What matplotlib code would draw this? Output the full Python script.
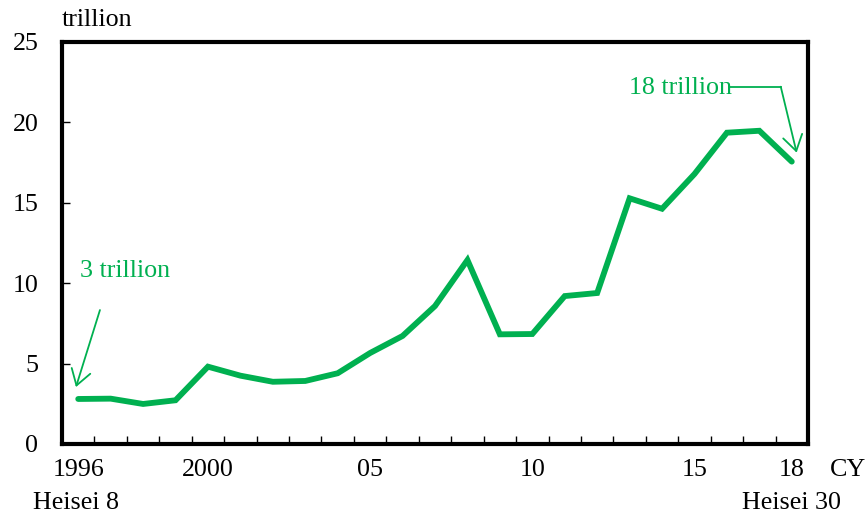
import matplotlib
matplotlib.use("Agg")
import matplotlib.pyplot as plt

years = list(range(1996, 2019))
values = [2.80, 2.82, 2.49, 2.72, 4.81, 4.25, 3.87, 3.92, 4.40, 5.66, 6.72,
          8.58, 11.44, 6.82, 6.84, 9.20, 9.39, 15.28, 14.63, 16.79, 19.36,
          19.48, 17.56]
xtick_years = [1996, 2000, 2005, 2010, 2015, 2018]
xtick_labels = ["1996", "2000", "05", "10", "15", "18"]
yticks = [0, 5, 10, 15, 20, 25]

GREEN = "#00B050"
FS = 18.7
plt.rcParams["font.family"] = ["Liberation Serif", "DejaVu Serif"]

W, H = 868, 514
fig = plt.figure(figsize=(W / 100, H / 100), dpi=100)
ax = fig.add_axes([62 / W, 1 - 444 / H, (808 - 62) / W, (444 - 42) / H])

idx = list(range(len(years)))
ax.plot(idx, values, color=GREEN, lw=4.2, solid_capstyle="round",
        solid_joinstyle="miter", zorder=3)

ax.set_xlim(-0.5, len(years) - 0.5)
ax.set_ylim(0, 25)

for s in ax.spines.values():
    s.set_linewidth(3.0)
    s.set_color("black")

ax.set_yticks(yticks)
ax.set_yticklabels([str(v) for v in yticks])
ax.tick_params(axis="y", direction="in", length=6, width=1.0, pad=17,
               labelsize=FS)

ax.set_xticks([i + 0.5 for i in idx[:-1]])
ax.set_xticklabels([])
ax.tick_params(axis="x", direction="in", length=6, width=1.0)
for y, lab in zip(xtick_years, xtick_labels):
    ax.text(years.index(y), -1.6, lab, ha="center", va="center",
            fontsize=FS, clip_on=False)

fig.text(62 / W, 1 - 20 / H, "trillion", ha="left", va="center", fontsize=FS)
fig.text(830 / W, 1 - 470 / H, "CY", ha="left", va="center", fontsize=FS)
fig.text(76 / W, 1 - 503 / H, "Heisei 8", ha="center", va="center", fontsize=FS)
fig.text(791 / W, 1 - 503 / H, "Heisei 30", ha="center", va="center", fontsize=FS)

arrow = dict(arrowstyle="->,head_length=0.55,head_width=0.35", color=GREEN,
             lw=1.3, shrinkA=0, shrinkB=0, mutation_scale=20)

# first-year annotation
ax.text(0.06, 10.76, "3 trillion", color=GREEN, fontsize=FS,
        ha="left", va="center")
ax.annotate("", xy=(-0.07, values[0] + 0.74), xytext=(0.67, 8.33),
            arrowprops=arrow, annotation_clip=False)

# last-year annotation
ax.text(16.98, 22.14, "18 trillion", color=GREEN, fontsize=FS,
        ha="left", va="center")
ax.plot([20.1, 21.66], [22.22, 22.22], color=GREEN, lw=1.3)
ax.annotate("", xy=(22.15, values[-1] + 0.56), xytext=(21.66, 22.22),
            arrowprops=arrow, annotation_clip=False)

fig.savefig("out.png", dpi=100)
